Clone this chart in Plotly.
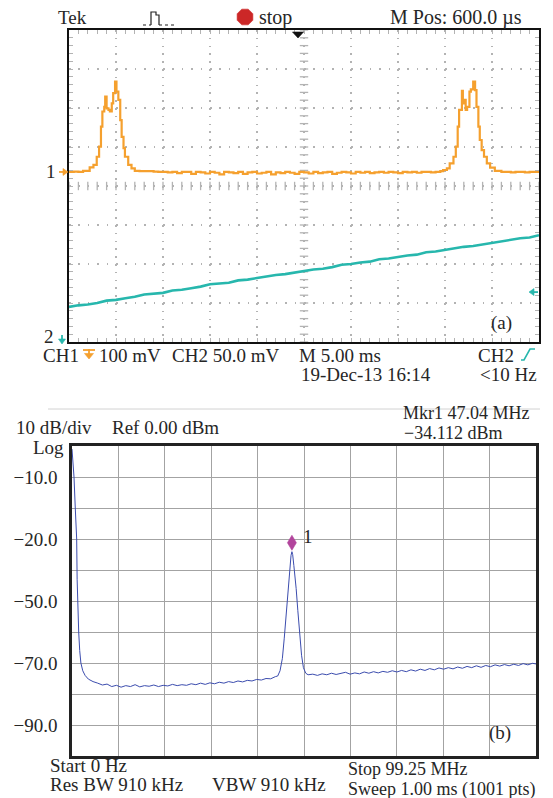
import math
import plotly.graph_objects as go

W, H = 553, 798
FONT = "Liberation Serif"
FS = 19
TXT = "#262626"

# ---------------- Panel (a): oscilloscope data ----------------
TIME_DIV_MS = 5.0
N_XDIV = 10
N_YDIV = 8
CH1_MV_DIV = 100.0
CH2_MV_DIV = 50.0
CH1_GND_DIV = 0.36
CH2_GND_DIV = -4.0
CH2_TRIG_MV = 64.0

CH1_PEAK1_T = [0.0, 0.5, 1.0, 1.5, 2.2, 2.6, 2.95, 3.2, 3.4, 3.55, 3.75, 3.85, 4.0, 4.2,
               4.35, 4.55, 4.7, 4.9, 5.05, 5.25, 5.45, 5.6, 5.8, 5.95, 6.3, 6.65, 7.0, 7.5]
CH1_PEAK1_MV = [0, 1, 0, 3, 12, 18, 39, 65, 116, 155, 167, 193, 163, 159,
                155, 176, 202, 232, 206, 185, 133, 90, 61, 39, 18, 9, 3, 2]

CH1_FLAT_T = [8.0, 8.5, 9.0, 9.5, 10.0, 10.5, 11.0, 11.5, 12.0, 12.5, 13.0, 13.5, 14.0, 14.5,
              15.0, 15.5, 16.0, 16.5, 17.0, 17.5, 18.0, 18.5, 19.0, 19.5, 20.0, 20.5, 21.0,
              21.5, 22.0, 22.5, 23.0, 23.5, 24.0, 24.5, 25.0, 25.5, 26.0, 26.5, 27.0, 27.5,
              28.0, 28.5, 29.0, 29.5, 30.0, 30.5, 31.0, 31.5, 32.0, 32.5, 33.0, 33.5, 34.0,
              34.5, 35.0, 35.5, 36.0, 36.5, 37.0, 37.5, 38.0, 38.5, 39.0, 39.5]
CH1_FLAT_MV = [2, 2, 1, 0, 0, -1, 0, -3, 0, 0, -5, 0, -1, -4,
               0, -2, -6, 0, -1, -3, 0, -5, -1, 0, -4, -2, 0,
               -6, -1, -3, 0, -2, -5, 0, -1, -4, 0, -3, -1, 0,
               -5, -2, 0, -1, -4, 0, -2, 0, -3, -1, 0, -2, 0,
               -1, -3, 0, -1, 0, -2, 0, 0, -1, 0, 2]

CH1_PEAK2_T = [39.8, 40.2, 40.5, 40.9, 41.15, 41.35, 41.5, 41.8, 41.9, 42.0, 42.2, 42.35,
               42.6, 42.75, 43.0, 43.2, 43.35, 43.55, 43.7, 43.9, 44.15, 44.45, 44.8, 45.3, 46.0]
CH1_PEAK2_MV = [5, 9, 22, 39, 65, 116, 159, 208, 176, 185, 159, 167,
                206, 212, 232, 210, 167, 116, 82, 56, 39, 22, 11, 3, 0]

CH1_TAIL_T = [46.5, 47.0, 47.5, 48.0, 48.5, 49.0, 49.5, 50.0]
CH1_TAIL_MV = [0, -1, 0, 0, -1, 0, 0, 0]

CH2_T = [0, 1, 2, 3, 4, 5, 6, 7, 8, 9, 10, 11, 12, 13, 14, 15, 16, 17, 18, 19, 20, 21, 22, 23,
         24, 25, 26, 27, 28, 29, 30, 31, 32, 33, 34, 35, 36, 37, 38, 39, 40, 41, 42, 43, 44,
         45, 46, 47, 48, 49, 50]
CH2_MV = [45, 47, 48, 50, 53, 54, 56, 58, 61, 62, 63, 66, 67, 69, 71, 74, 75, 76, 79, 80, 82,
          84, 86, 87, 89, 91, 93, 94, 96, 99, 100, 102, 103, 106, 107, 109, 111, 112, 115, 116,
          118, 120, 122, 123, 125, 127, 129, 131, 133, 134, 137]

# ---------------- Panel (b): spectrum data ----------------
SPAN_MHZ = 99.25
REF_DBM = 0.0
DB_DIV = 10.0
MKR_FREQ = 47.04
MKR_DBM = -34.112

SPEC_EDGE_F = [0.0, 0.2, 0.43, 0.7, 1.0, 1.1, 1.25, 1.43, 1.65, 1.9, 2.3, 2.8, 3.5, 4.5,
               5.5, 6.5, 7.5, 8.5]
SPEC_EDGE_DB = [-1, -5, -10, -20, -30, -43, -52, -60, -66, -70, -72.5, -74, -75.2, -76,
                -76.5, -77.1, -76.8, -77.6]

SPEC_LOW_F = [9.5, 10.5, 11.5, 12.5, 13.5, 14.5, 15.5, 16.5, 17.5, 18.5, 19.5, 20.5, 21.5,
              22.5, 23.5, 24.5, 25.5, 26.5, 27.5, 28.5, 29.5, 30.5, 31.5, 32.5, 33.5, 34.5,
              35.5, 36.5, 37.5, 38.5, 39.5, 40.5, 41.5, 42.5, 43.5]
SPEC_LOW_DB = [-77.2, -77.8, -77.3, -77.6, -77.0, -77.7, -77.3, -77.5, -77.1, -77.6, -77.2,
               -77.4, -76.9, -77.3, -77.0, -77.2, -76.7, -77.0, -76.5, -76.9, -76.4, -76.7,
               -76.2, -76.5, -76.0, -76.3, -75.8, -76.1, -75.6, -75.8, -75.3, -75.5, -75.0,
               -75.1, -74.4]

SPEC_PEAK_F = [44.0, 44.5, 45.0, 45.4, 45.8, 46.2, 46.4, 46.65, 46.85, 47.04, 47.2, 47.45,
               47.7, 47.95, 48.3, 48.7, 49.1, 49.5, 50.0, 50.5]
SPEC_PEAK_DB = [-74.2, -72.5, -68.5, -62, -54, -46, -42, -38, -35.3, -34.1, -35, -38.5,
                -42, -46, -53, -61, -67.5, -71.5, -73.3, -73.8]

SPEC_HIGH_F = [51.5, 52.5, 53.5, 54.5, 55.5, 56.5, 57.5, 58.5, 59.5, 60.5, 61.5, 62.5, 63.5,
               64.5, 65.5, 66.5, 67.5, 68.5, 69.5, 70.5, 71.5, 72.5, 73.5, 74.5, 75.5, 76.5,
               77.5, 78.5, 79.5, 80.5, 81.5, 82.5, 83.5, 84.5, 85.5, 86.5, 87.5, 88.5, 89.5,
               90.5, 91.5, 92.5, 93.5, 94.5, 95.5, 96.5, 97.5, 98.5, 99.25]
SPEC_HIGH_DB = [-73.6, -74.0, -73.5, -73.8, -73.3, -73.7, -73.4, -73.0, -73.6, -73.2, -73.5,
                -72.9, -73.3, -72.8, -73.2, -72.7, -73.0, -72.5, -72.9, -72.4, -72.8, -72.2,
                -72.6, -72.0, -72.4, -71.8, -72.2, -71.6, -72.0, -71.5, -71.9, -71.3, -71.7,
                -71.1, -71.5, -70.9, -71.4, -70.8, -71.2, -70.6, -71.0, -70.5, -70.9, -70.4,
                -70.8, -70.2, -70.6, -70.1, -70.3]

Y_TICKVALS = [-90, -80, -70, -60, -50, -40, -30, -20, -10]
Y_TICKTEXT = ["\u221290.0", "", "\u221270.0", "", "\u221250.0", "", "\u221220.0", "", "\u221210.0"]

# ---------------- layout geometry (pixels) ----------------
A_X0, A_X1, A_Y0, A_Y1 = 69, 539, 30, 342
B_X0, B_X1, B_Y0, B_Y1 = 72, 536, 446, 756


def px(x):
    return x / W


def py(y):
    return 1 - y / H


ORANGE = "#f5a02e"
TEAL = "#27b7ad"
BLUE = "#3b4cae"
MAGENTA = "#b2449c"
GRID_A = "#b3b3b3"

ch1_t = CH1_PEAK1_T + CH1_FLAT_T + CH1_PEAK2_T + CH1_TAIL_T
ch1_mv = CH1_PEAK1_MV + CH1_FLAT_MV + CH1_PEAK2_MV + CH1_TAIL_MV
ch1_div = [v / CH1_MV_DIV + CH1_GND_DIV for v in ch1_mv]
ch2_div = [v / CH2_MV_DIV + CH2_GND_DIV for v in CH2_MV]

spec_f = SPEC_EDGE_F + SPEC_LOW_F + SPEC_PEAK_F + SPEC_HIGH_F
spec_db = SPEC_EDGE_DB + SPEC_LOW_DB + SPEC_PEAK_DB + SPEC_HIGH_DB

t_max = TIME_DIV_MS * N_XDIV
half = N_YDIV / 2

fig = go.Figure()

# center graticule tick marks
cy_vals = [-half + i * 0.2 for i in range(int(N_YDIV * 5) + 1)]
cx_vals = [i * TIME_DIV_MS / 5 for i in range(N_XDIV * 5 + 1)]
fig.add_trace(go.Scatter(x=[t_max / 2] * len(cy_vals), y=cy_vals, mode="markers",
                         marker=dict(symbol="line-ew", size=6, line=dict(width=1.3, color=GRID_A)),
                         xaxis="x", yaxis="y", hoverinfo="skip", showlegend=False))
fig.add_trace(go.Scatter(x=cx_vals, y=[0] * len(cx_vals), mode="markers",
                         marker=dict(symbol="line-ns", size=6, line=dict(width=1.3, color=GRID_A)),
                         xaxis="x", yaxis="y", hoverinfo="skip", showlegend=False))

fig.add_trace(go.Scatter(x=ch1_t, y=ch1_div, mode="lines", line=dict(color=ORANGE, width=2.2, shape="hv"),
                         xaxis="x", yaxis="y", showlegend=False, hoverinfo="skip"))
fig.add_trace(go.Scatter(x=CH2_T, y=ch2_div, mode="lines", line=dict(color=TEAL, width=2.6),
                         xaxis="x", yaxis="y", showlegend=False, hoverinfo="skip"))

fig.add_trace(go.Scatter(x=spec_f, y=spec_db, mode="lines", line=dict(color=BLUE, width=1),
                         xaxis="x2", yaxis="y2", showlegend=False, hoverinfo="skip"))

axis_font = dict(family=FONT, size=FS, color=TXT)

fig.update_layout(
    width=W, height=H, margin=dict(l=0, r=0, t=0, b=0),
    paper_bgcolor="white", plot_bgcolor="white",
    font=axis_font, showlegend=False,
    xaxis=dict(domain=[px(A_X0), px(A_X1)], range=[0, t_max], anchor="y",
               tick0=0, dtick=TIME_DIV_MS, showticklabels=False,
               showgrid=True, gridcolor=GRID_A, gridwidth=1.6, griddash="1.6px,6.2px",
               ticks="inside", ticklen=4, tickcolor=GRID_A, tickwidth=1.2,
               minor=dict(dtick=TIME_DIV_MS / 5, ticks="inside", ticklen=4, tickcolor=GRID_A, tickwidth=1.2),
               showline=True, linecolor="#111111", linewidth=2, mirror="ticks", zeroline=False),
    yaxis=dict(domain=[py(A_Y1), py(A_Y0)], range=[-half, half], anchor="x",
               tick0=0, dtick=1, showticklabels=False,
               showgrid=True, gridcolor=GRID_A, gridwidth=1.6, griddash="1.6px,7.8px",
               ticks="inside", ticklen=4, tickcolor=GRID_A, tickwidth=1.2,
               minor=dict(dtick=0.2, ticks="inside", ticklen=4, tickcolor=GRID_A, tickwidth=1.2),
               showline=True, linecolor="#111111", linewidth=2, mirror="ticks", zeroline=False),
    xaxis2=dict(domain=[px(B_X0), px(B_X1)], range=[0, SPAN_MHZ], anchor="y2",
                tick0=0, dtick=SPAN_MHZ / 10, showticklabels=False,
                showgrid=True, gridcolor="#a3a3a3", gridwidth=1,
                showline=True, linecolor="#222222", linewidth=2.5, mirror=True, zeroline=False),
    yaxis2=dict(domain=[py(B_Y1), py(B_Y0)], range=[REF_DBM - 10 * DB_DIV, REF_DBM], anchor="x2",
                tickvals=Y_TICKVALS, ticktext=Y_TICKTEXT, ticks="", ticklabelstandoff=8,
                tickfont=axis_font,
                showgrid=True, gridcolor="#a3a3a3", gridwidth=1,
                showline=True, linecolor="#222222", linewidth=2.5, mirror=True, zeroline=False),
)

# ---------------- texts ----------------
anns = []


def txt(text, x, y, xanchor="left", size=FS, color=TXT, yref="paper", yval=None):
    anns.append(dict(text=text, x=px(x), y=py(y) if yval is None else yval,
                     xref="paper", yref=yref, xanchor=xanchor, yanchor="middle",
                     showarrow=False, borderpad=0,
                     font=dict(family=FONT, size=size, color=color)))


txt("Tek", 57, 18)
txt("stop", 258, 18, size=20)
txt("M Pos: 600.0 \u00b5s", 456, 18, xanchor="center", size=20)
txt("1", 57, 0, xanchor="right", yref="y", yval=CH1_GND_DIV)
txt("2", 55, 337, xanchor="right")
txt("(a)", 501, 323, xanchor="center")
txt("CH1", 42, 355)
txt("100 mV", 98, 355)
txt("CH2 50.0 mV", 171, 355)
txt("M 5.00 ms", 298, 355)
txt("CH2", 477, 355)
txt("19-Dec-13 16:14", 300, 374)
txt("<10 Hz", 538, 374, xanchor="right")

txt("10 dB/div", 15, 427)
txt("Ref 0.00 dBm", 111, 427)
txt("Log", 65, 447, xanchor="right")
txt("Mkr1 47.04 MHz", 402, 413, size=18)
txt("\u221234.112 dBm", 403, 433, size=18)
txt("Start 0 Hz", 49, 765)
txt("Res BW 910 kHz", 49, 784)
txt("VBW 910 kHz", 211, 784)
txt("Stop 99.25 MHz", 347, 769, size=18)
txt("Sweep 1.00 ms (1001 pts)", 347, 789, size=18)
txt("(b)", 500, 733, xanchor="center")

anns.append(dict(text="1", x=MKR_FREQ, y=MKR_DBM, xref="x2", yref="y2", xshift=9, yshift=15,
                 xanchor="left", yanchor="middle", showarrow=False,
                 font=dict(family=FONT, size=FS, color=TXT)))

fig.update_layout(annotations=anns)

# ---------------- icons / markers ----------------
shapes = []


def path_str(points, closed=False):
    s = "M %g,%g" % (points[0][0], -points[0][1])
    for dx, dy in points[1:]:
        s += " L %g,%g" % (dx, -dy)
    if closed:
        s += " Z"
    return s


def icon(points, color, xa, ya, xref="paper", yref="paper", fill=False, width=1.4, dash="solid"):
    shapes.append(dict(type="path", xref=xref, yref=yref, xsizemode="pixel", ysizemode="pixel",
                       xanchor=xa, yanchor=ya, path=path_str(points, closed=fill),
                       fillcolor=color if fill else "rgba(0,0,0,0)",
                       line=dict(color=color, width=0.6 if fill else width, dash=dash), layer="above"))


# red stop octagon
oct_pts = [(8.5 * math.cos(math.radians(22.5 + 45 * k)), 8.5 * math.sin(math.radians(22.5 + 45 * k))) for k in range(8)]
icon(oct_pts, "#cc2727", px(245), py(17), fill=True)

# acquisition pulse icon
icon([(0, 0), (8, 0)], "#222222", px(143), py(25), width=1.2, dash="dot")
icon([(8, 0), (8, -13), (13, -13), (13, -10), (16, -10), (16, 0)], "#222222", px(143), py(25), width=1.2)
icon([(16, 0), (33, 0)], "#222222", px(143), py(25), width=1.2, dash="dot")

# trigger position marker (top)
icon([(-5.5, 0), (5.5, 0), (0, 6)], "#111111", px(298), py(32), fill=True)

# CH1 ground marker (left)
icon([(-9, 0), (-4, 0)], ORANGE, px(68), CH1_GND_DIV, yref="y", width=1.8)
icon([(-5, -3.5), (0, 0), (-5, 3.5)], ORANGE, px(68), CH1_GND_DIV, yref="y", fill=True)

# CH2 ground marker (off-screen, down arrow)
icon([(0, -7), (0, -2)], TEAL, px(62), py(342), width=1.8)
icon([(-3.5, -3), (3.5, -3), (0, 2)], TEAL, px(62), py(342), fill=True)

# CH2 trigger level marker (right)
icon([(2, 0), (9, 0)], TEAL, px(529), CH2_TRIG_MV / CH2_MV_DIV + CH2_GND_DIV, yref="y", width=1.8)
icon([(0, 0), (5, -3.5), (5, 3.5)], TEAL, px(529), CH2_TRIG_MV / CH2_MV_DIV + CH2_GND_DIV, yref="y", fill=True)

# CH1 coupling icon in status bar
icon([(-6, 0), (6, 0)], ORANGE, px(89), py(350), width=1.8)
icon([(0, -1), (0, 5)], ORANGE, px(89), py(350), width=1.8)
icon([(-4.5, 3.5), (4.5, 3.5), (0, 9)], ORANGE, px(89), py(350), fill=True)

# CH2 trigger slope icon
icon([(0, 0), (3, 0), (9, -11), (14, -11)], TEAL, px(521), py(360), width=1.6)

# spectrum marker diamond
icon([(0, -1.5), (4.5, -9), (0, -16.5), (-4.5, -9)], MAGENTA, MKR_FREQ, MKR_DBM, xref="x2", yref="y2", fill=True)

# separator line above spectrum header
shapes.append(dict(type="line", xref="paper", yref="paper", x0=px(48), x1=px(540), y0=py(409), y1=py(409),
                   line=dict(color="#d2d2d2", width=1)))

fig.update_layout(shapes=shapes)

fig.write_html("out.html")
